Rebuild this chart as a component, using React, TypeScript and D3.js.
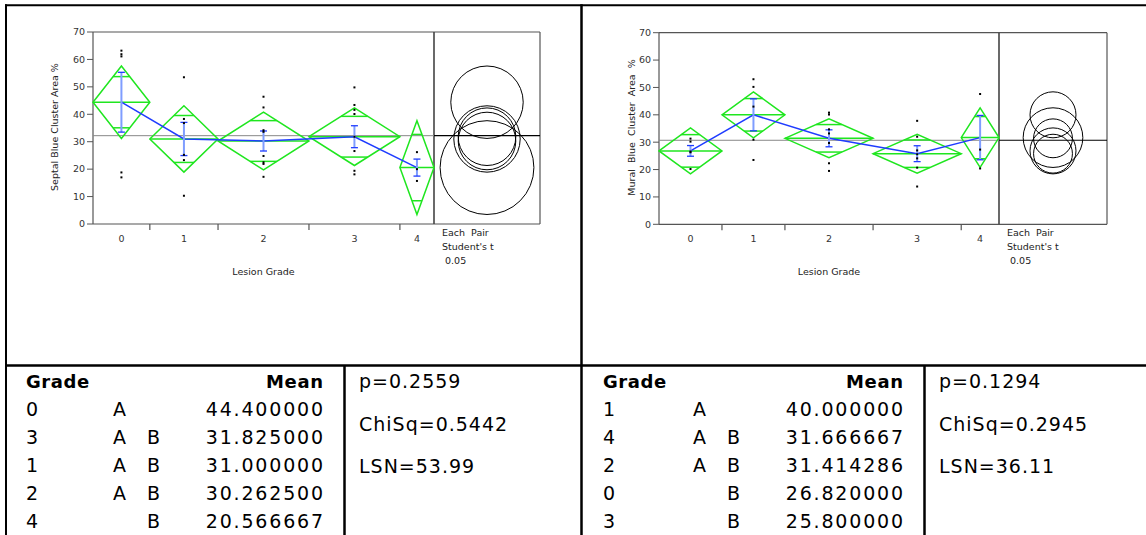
import React, { useEffect, useRef } from 'react';
import * as d3 from 'd3';

const grades = ['0', '1', '2', '3', '4'];

// Septal panel (left)
const septalN = [5, 6, 8, 8, 3];
const septalMeans = [44.4, 31.0, 30.2625, 31.825, 20.566667];
const septalCi = [13.2, 12.1, 10.5, 10.5, 17.1];
const septalSe = [10.9, 6.05, 3.65, 4.0, 3.1];
const septalPoints = [
  [63.2, 61.9, 61.1, 18.8, 17.0],
  [53.5, 38.3, 36.8, 25.2, 23.3, 10.3],
  [46.4, 42.5, 34.2, 33.6, 24.8, 22.5, 21.9, 17.2],
  [49.8, 43.4, 41.6, 40.1, 31.8, 26.6, 19.4, 18.1],
  [26.2, 20.0, 15.7],
];
const septalGrandMean = 32.2;
const septalLetters = ['A', 'A B', 'A B', 'A B', 'B'];
const septalStats = ['p=0.2559', 'ChiSq=0.5442', 'LSN=53.99'];

// Mural panel (right)
const muralN = [5, 5, 7, 7, 3];
const muralMeans = [26.82, 40.0, 31.414286, 25.8, 31.666667];
const muralCi = [8.4, 8.4, 7.1, 7.1, 10.9];
const muralSe = [1.95, 5.85, 3.1, 2.9, 8.1];
const muralPoints = [
  [31.3, 30.2, 26.6, 26.3, 20.2],
  [53.0, 50.2, 43.0, 30.9, 23.5],
  [40.8, 40.1, 34.7, 33.2, 29.7, 22.3, 19.5],
  [37.8, 32.0, 27.0, 25.6, 24.1, 20.7, 13.8],
  [47.6, 27.3, 20.4],
];
const muralGrandMean = 30.7;
const muralLetters = ['B', 'A', 'A B', 'B', 'A B'];
const muralStats = ['p=0.1294', 'ChiSq=0.2945', 'LSN=36.11'];

const yTicks = [0, 10, 20, 30, 40, 50, 60, 70];

const GREEN = '#1fe61f';
const BLUE = '#1f3cff';
const LIGHTBLUE = '#7f9dff';
const AXIS = '#555';
const FONT = 'DejaVu Sans, sans-serif';

interface PanelCfg {
  x0: number; x1: number; x2: number; yTop: number; yBot: number;
  yLabel: string; yLabelX: number;
  n: number[]; means: number[]; ci: number[]; se: number[]; points: number[][];
  grandMean: number;
  letters: string[]; stats: string[];
  tX: number; letterAX: number; letterBX: number; meanX: number; statX: number;
}

const panels: PanelCfg[] = [
  {
    x0: 93, x1: 434, x2: 540, yTop: 32, yBot: 224,
    yLabel: 'Septal Blue Cluster Area %', yLabelX: 58,
    n: septalN, means: septalMeans, ci: septalCi, se: septalSe, points: septalPoints,
    grandMean: septalGrandMean, letters: septalLetters, stats: septalStats,
    tX: 26, letterAX: 113, letterBX: 147, meanX: 323, statX: 359,
  },
  {
    x0: 659, x1: 999, x2: 1107, yTop: 32.7, yBot: 224.3,
    yLabel: 'Mural  Blue  Cluster  Area  %', yLabelX: 635,
    n: muralN, means: muralMeans, ci: muralCi, se: muralSe, points: muralPoints,
    grandMean: muralGrandMean, letters: muralLetters, stats: muralStats,
    tX: 603, letterAX: 693, letterBX: 727, meanX: 903, statX: 939,
  },
];

function drawPanel(svg: d3.Selection<SVGSVGElement, unknown, null, undefined>, p: PanelCfg) {
  const g = svg.append('g');
  const y = d3.scaleLinear().domain([0, 70]).range([p.yBot, p.yTop]);
  const cum = [0, ...d3.cumsum(p.n)];
  const x = d3.scaleLinear().domain([0, cum[cum.length - 1]]).range([p.x0, p.x1]);
  const centers = p.n.map((_, i) => x((cum[i] + cum[i + 1]) / 2));

  // frame
  g.append('line').attr('x1', p.x0).attr('x2', p.x2).attr('y1', p.yTop).attr('y2', p.yTop)
    .attr('stroke', AXIS).attr('stroke-width', 1.2);
  g.append('line').attr('x1', p.x0).attr('x2', p.x2).attr('y1', p.yBot).attr('y2', p.yBot)
    .attr('stroke', AXIS).attr('stroke-width', 1.2);
  g.append('line').attr('x1', p.x0).attr('x2', p.x0).attr('y1', p.yTop).attr('y2', p.yBot)
    .attr('stroke', AXIS).attr('stroke-width', 1.2);
  g.append('line').attr('x1', p.x1).attr('x2', p.x1).attr('y1', p.yTop).attr('y2', p.yBot)
    .attr('stroke', '#444').attr('stroke-width', 1.6);
  g.append('line').attr('x1', p.x2).attr('x2', p.x2).attr('y1', p.yTop).attr('y2', p.yBot)
    .attr('stroke', AXIS).attr('stroke-width', 1.2);

  // y ticks
  yTicks.forEach(t => {
    g.append('line').attr('x1', p.x0 - 6).attr('x2', p.x0).attr('y1', y(t)).attr('y2', y(t))
      .attr('stroke', AXIS).attr('stroke-width', 1);
    g.append('text').attr('x', p.x0 - 8).attr('y', y(t)).attr('dy', '0.35em')
      .attr('text-anchor', 'end').attr('font-size', 9.5).attr('fill', '#333')
      .attr('font-family', FONT).text(t);
  });

  // x boundary ticks
  cum.slice(1, -1).forEach(c => {
    g.append('line').attr('x1', x(c)).attr('x2', x(c)).attr('y1', p.yBot).attr('y2', p.yBot + 6)
      .attr('stroke', AXIS).attr('stroke-width', 1.2);
  });
  grades.forEach((gr, i) => {
    g.append('text').attr('x', centers[i]).attr('y', p.yBot + 18).attr('text-anchor', 'middle')
      .attr('font-size', 9.5).attr('fill', '#333').attr('font-family', FONT).text(gr);
  });
  g.append('text').attr('x', (p.x0 + p.x1) / 2).attr('y', p.yBot + 51).attr('text-anchor', 'middle')
    .attr('font-size', 9.5).attr('fill', '#222').attr('font-family', FONT).text('Lesion Grade');
  g.append('text')
    .attr('transform', `translate(${p.yLabelX},${(p.yTop + p.yBot) / 2 - 1}) rotate(-90)`)
    .attr('text-anchor', 'middle').attr('font-size', 9.5).attr('fill', '#222')
    .attr('font-family', FONT).style('white-space', 'pre').text(p.yLabel);

  // grand mean
  g.append('line').attr('x1', p.x0).attr('x2', p.x1).attr('y1', y(p.grandMean)).attr('y2', y(p.grandMean))
    .attr('stroke', '#888').attr('stroke-width', 1);
  g.append('line').attr('x1', p.x1).attr('x2', p.x2).attr('y1', y(p.grandMean)).attr('y2', y(p.grandMean))
    .attr('stroke', '#000').attr('stroke-width', 1.2);

  // diamonds
  p.means.forEach((m, i) => {
    const l = x(cum[i]);
    const r = x(cum[i + 1]);
    const c = centers[i];
    const top = y(m + p.ci[i]);
    const bot = y(m - p.ci[i]);
    g.append('path')
      .attr('d', `M${l},${y(m)}L${c},${top}L${r},${y(m)}L${c},${bot}Z`)
      .attr('fill', 'none').attr('stroke', GREEN).attr('stroke-width', 1.5);
    g.append('line').attr('x1', l).attr('x2', r).attr('y1', y(m)).attr('y2', y(m))
      .attr('stroke', GREEN).attr('stroke-width', 1.5);
    const hw = ((r - l) / 2) * (1 - Math.SQRT1_2);
    [1, -1].forEach(s => {
      const yy = y(m + s * p.ci[i] * Math.SQRT1_2);
      g.append('line').attr('x1', c - hw).attr('x2', c + hw).attr('y1', yy).attr('y2', yy)
        .attr('stroke', GREEN).attr('stroke-width', 1.5);
    });
  });

  // means line
  const line = d3.line<number>().x((_, i) => centers[i]).y(d => y(d));
  g.append('path').datum(p.means).attr('d', line).attr('fill', 'none')
    .attr('stroke', BLUE).attr('stroke-width', 1.5);

  // error bars
  p.means.forEach((m, i) => {
    const c = centers[i];
    g.append('line').attr('x1', c).attr('x2', c).attr('y1', y(m - p.se[i])).attr('y2', y(m + p.se[i]))
      .attr('stroke', LIGHTBLUE).attr('stroke-width', 2);
    [m - p.se[i], m + p.se[i]].forEach(v => {
      g.append('line').attr('x1', c - 3.5).attr('x2', c + 3.5).attr('y1', y(v)).attr('y2', y(v))
        .attr('stroke', BLUE).attr('stroke-width', 1.3);
    });
  });

  // points
  p.points.forEach((pts, i) => {
    pts.forEach(v => {
      g.append('rect').attr('x', centers[i] - 1).attr('y', y(v) - 1).attr('width', 2).attr('height', 2)
        .attr('fill', '#000');
    });
  });

  // comparison circles
  const cx = (p.x1 + p.x2) / 2;
  const pxPerUnit = y(0) - y(1);
  p.means.forEach((m, i) => {
    g.append('circle').attr('cx', cx).attr('cy', y(m)).attr('r', p.ci[i] * pxPerUnit)
      .attr('fill', 'none').attr('stroke', '#000').attr('stroke-width', 1);
  });

  ['Each  Pair', "Student's t", ' 0.05'].forEach((t, i) => {
    g.append('text').attr('x', p.x1 + 8).attr('y', p.yBot + 12 + i * 14)
      .attr('font-size', 9.5).attr('fill', '#222').attr('font-family', FONT)
      .style('white-space', 'pre').text(t);
  });

  // table
  const order = d3.range(p.means.length).sort((a, b) => p.means[b] - p.means[a]);
  const base = 388;
  const rowH = 28;
  g.append('text').attr('x', p.tX).attr('y', base).attr('font-size', 18).attr('font-weight', 'bold')
    .attr('font-family', FONT).attr('letter-spacing', 0.6).text('Grade');
  g.append('text').attr('x', p.meanX + 0.6).attr('y', base).attr('font-size', 18).attr('font-weight', 'bold')
    .attr('text-anchor', 'end').attr('font-family', FONT).attr('letter-spacing', 0.6).text('Mean');
  order.forEach((gi, r) => {
    const yy = base + (r + 1) * rowH;
    const txt = (xx: number, s: string, anchor = 'start') =>
      g.append('text').attr('x', xx).attr('y', yy).attr('font-size', 19).attr('font-family', FONT)
        .attr('letter-spacing', 1.8).attr('text-anchor', anchor).text(s);
    txt(p.tX, grades[gi]);
    if (p.letters[gi].includes('A')) txt(p.letterAX, 'A');
    if (p.letters[gi].includes('B')) txt(p.letterBX, 'B');
    txt(p.meanX + 1.8, p.means[gi].toFixed(6), 'end');
  });
  p.stats.forEach((s, i) => {
    g.append('text').attr('x', p.statX).attr('y', base + i * 42.6).attr('font-size', 19)
      .attr('font-family', FONT).attr('letter-spacing', 1.0).text(s);
  });
  g.append('line').attr('x1', p.meanX + 21.5).attr('x2', p.meanX + 21.5).attr('y1', 365).attr('y2', 535)
    .attr('stroke', '#000').attr('stroke-width', 2.5);
}

export default function App() {
  const svgRef = useRef<SVGSVGElement>(null);

  useEffect(() => {
    document.body.style.margin = '0';
    if (!svgRef.current) return;
    const svg = d3.select(svgRef.current);
    svg.selectAll('*').remove();

    svg.append('rect').attr('width', 1146).attr('height', 535).attr('fill', '#fff');

    // outer grid
    svg.append('line').attr('x1', 5).attr('x2', 1146).attr('y1', 5.3).attr('y2', 5.3)
      .attr('stroke', '#000').attr('stroke-width', 2);
    svg.append('line').attr('x1', 6).attr('x2', 6).attr('y1', 4.3).attr('y2', 535)
      .attr('stroke', '#000').attr('stroke-width', 2);
    svg.append('line').attr('x1', 581.5).attr('x2', 581.5).attr('y1', 4.3).attr('y2', 535)
      .attr('stroke', '#000').attr('stroke-width', 2.5);
    svg.append('line').attr('x1', 5).attr('x2', 1146).attr('y1', 365.5).attr('y2', 365.5)
      .attr('stroke', '#000').attr('stroke-width', 2.5);

    panels.forEach(p => drawPanel(svg, p));
  }, []);

  return (
    <svg ref={svgRef} width={1146} height={535}
      style={{ display: 'block', position: 'absolute', left: 0, top: 0 }} />
  );
}
